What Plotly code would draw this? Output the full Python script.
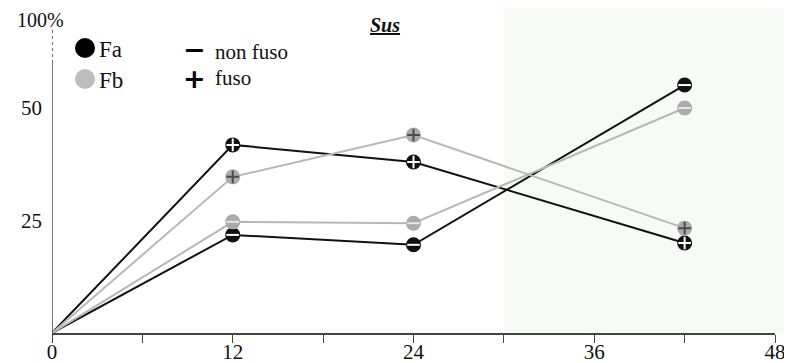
import plotly.graph_objects as go

# ---- data ----
hours = [0, 12, 24, 42]
fa_non_fuso = [0, 21.8, 19.6, 55.1]
fa_fuso = [0, 41.8, 38.0, 20.0]
fb_non_fuso = [0, 24.7, 24.4, 50.0]
fb_fuso = [0, 34.7, 44.0, 23.3]

x_tick_vals = [0, 6, 12, 18, 24, 30, 36, 42, 48]
x_tick_text = ["0", "", "12", "", "24", "", "36", "", "48"]
y_tick_vals = [25, 50]
y_tick_text = ["25", "50"]
shade_start = 30

# page body has an 8px default margin: figure is placed at (8, 8)
OFF = 8
W, H = 792 - OFF, 363 - OFF
X0_SCR, X48_SCR, Y0_SCR = 52, 775, 333   # screen pixels of plot corners
ML = X0_SCR - OFF
MR = W - (X48_SCR - OFF)
MB = H - (Y0_SCR - OFF)
YTOP_SCR = 18
MT = YTOP_SCR - OFF
PW, PH = W - ML - MR, H - MT - MB
XR = [0, 48]
YR = [0, 70]

def px(xs):
    return (xs - X0_SCR) / PW

def py(ys):
    return (Y0_SCR - ys) / PH

FONT = "Liberation Serif, Times New Roman, serif"
BLACK = "#111111"
GRAY_LINE = "#b8b8b8"
GRAY_MARK = "#ababab"

fig = go.Figure()

series = [
    (fa_non_fuso, BLACK, BLACK, "line-ew", "white"),
    (fa_fuso, BLACK, BLACK, "cross-thin", "white"),
    (fb_non_fuso, GRAY_LINE, GRAY_MARK, "line-ew", "#e6e6e6"),
    (fb_fuso, GRAY_LINE, GRAY_MARK, "cross-thin", "#4a4a4a"),
]

for ys, lc, mc, sym, sc in series:
    fig.add_trace(go.Scatter(x=hours, y=ys, mode="lines",
                             line=dict(color=lc, width=2), hoverinfo="skip",
                             cliponaxis=False))
for ys, lc, mc, sym, sc in series:
    fig.add_trace(go.Scatter(x=hours[1:], y=ys[1:], mode="markers",
                             marker=dict(symbol="circle", size=15, color=mc,
                                         line=dict(width=0)),
                             hoverinfo="skip", cliponaxis=False))
    fig.add_trace(go.Scatter(x=hours[1:], y=ys[1:], mode="markers",
                             marker=dict(symbol=sym, size=9,
                                         line=dict(color=sc, width=2)),
                             hoverinfo="skip", cliponaxis=False))

shapes = []
# light green shaded region
shapes.append(dict(type="rect", xref="paper", yref="paper",
                   x0=(shade_start - XR[0]) / (XR[1] - XR[0]), x1=px(787),
                   y0=0, y1=py(OFF), fillcolor="#f7fbf5", line=dict(width=0),
                   layer="below"))
# y axis: solid to 60, dashed above
shapes.append(dict(type="line", xref="x", yref="y", x0=0, x1=0, y0=0, y1=60,
                   line=dict(color="#444", width=1.5)))
shapes.append(dict(type="line", xref="x", yref="y", x0=0, x1=0, y0=60, y1=68,
                   line=dict(color="#444", width=1.5, dash="dot")))
shapes.append(dict(type="line", xref="x", yref="y", xsizemode="pixel", xanchor=0,
                   x0=-7, x1=0, y0=60, y1=60, line=dict(color="#444", width=1.5)))
# legend circles
shapes.append(dict(type="circle", xref="paper", yref="paper", xsizemode="pixel",
                   ysizemode="pixel", xanchor=px(85), yanchor=py(48),
                   x0=-10, x1=10, y0=-10, y1=10, fillcolor="#000000",
                   line=dict(width=0)))
shapes.append(dict(type="circle", xref="paper", yref="paper", xsizemode="pixel",
                   ysizemode="pixel", xanchor=px(85), yanchor=py(79),
                   x0=-10, x1=10, y0=-10, y1=10, fillcolor="#bdbdbd",
                   line=dict(width=0)))

annotations = [
    dict(text="100%", xref="x", yref="y", x=0, y=69.6, xshift=-12,
         showarrow=False, xanchor="center", yanchor="middle",
         font=dict(family=FONT, size=20, color="#111")),
    dict(text="Fa", xref="paper", yref="paper", x=px(97), y=py(50),
         showarrow=False, xanchor="left", yanchor="middle",
         font=dict(family=FONT, size=23, color="#111")),
    dict(text="Fb", xref="paper", yref="paper", x=px(97), y=py(80),
         showarrow=False, xanchor="left", yanchor="middle",
         font=dict(family=FONT, size=23, color="#111")),
    dict(text="<b>\u2212</b>", xref="paper", yref="paper", x=px(194), y=py(50),
         showarrow=False, xanchor="center", yanchor="middle",
         font=dict(family="DejaVu Sans", size=27, color="#000")),
    dict(text="<b>+</b>", xref="paper", yref="paper", x=px(194), y=py(78),
         showarrow=False, xanchor="center", yanchor="middle",
         font=dict(family="DejaVu Sans", size=27, color="#000")),
    dict(text="non fuso", xref="paper", yref="paper", x=px(213), y=py(52),
         showarrow=False, xanchor="left", yanchor="middle",
         font=dict(family=FONT, size=21, color="#111")),
    dict(text="fuso", xref="paper", yref="paper", x=px(213), y=py(78),
         showarrow=False, xanchor="left", yanchor="middle",
         font=dict(family=FONT, size=21, color="#111")),
    dict(text="<b><i><u>Sus</u></i></b>", xref="paper", yref="paper",
         x=px(385), y=py(25), showarrow=False, xanchor="center",
         yanchor="middle", font=dict(family=FONT, size=20, color="#111")),
]

fig.update_layout(
    width=W, height=H,
    margin=dict(l=ML, r=MR, t=MT, b=MB, pad=0, autoexpand=False),
    plot_bgcolor="rgba(0,0,0,0)", paper_bgcolor="white",
    showlegend=False,
    shapes=shapes, annotations=annotations,
    xaxis=dict(range=XR, showgrid=False, zeroline=False, showline=True,
               automargin=False,
               linecolor="#444", linewidth=1.5, ticks="outside", ticklen=8,
               tickcolor="#444", tickwidth=1.2, tickvals=x_tick_vals,
               ticktext=x_tick_text, ticklabelstandoff=-9,
               tickfont=dict(family=FONT, size=21, color="#111")),
    yaxis=dict(range=YR, showgrid=False, zeroline=False, showline=False,
               automargin=False,
               ticks="", tickvals=y_tick_vals, ticktext=y_tick_text,
               ticklabelstandoff=9,
               tickfont=dict(family=FONT, size=21, color="#111")),
)

fig.write_html("out.html")
